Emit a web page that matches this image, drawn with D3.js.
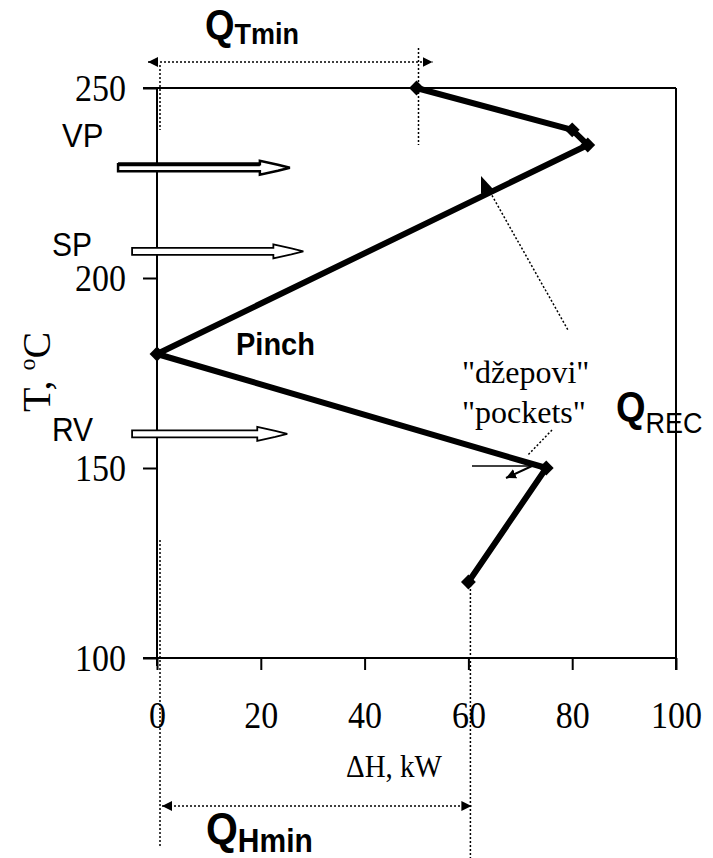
<!DOCTYPE html>
<html>
<head>
<meta charset="utf-8">
<script src="https://cdn.jsdelivr.net/npm/d3@7"></script>
<style>
  body { margin: 0; background: #fff; }
  .st { transform-box: fill-box; transform-origin: center; transform: scale(1, 1.1); }
</style>
</head>
<body>
<div id="chart-area"></div>
<script>
// grand composite curve data
const dH = [50, 80, 83, 0, 75, 60];
const temps = [250, 239, 235, 180, 150, 120];

// utilities (hollow arrows on the left)
const utilNames = ["VP", "SP", "RV"];
const utilT = [229, 207, 159];
const utilFrom = [-7.5, -4.8, -4.8];
const utilTo = [25.6, 28.2, 25.1];

const xTicks = [0, 20, 40, 60, 80, 100];
const yTicks = [100, 150, 200, 250];

const QTmin = 50, QHmin = 60;

const svg = d3.select("#chart-area")
  .append("svg")
    .attr("width", 713)
    .attr("height", 858);

const x = d3.scaleLinear().domain([0, 100]).range([157, 676]);
const y = d3.scaleLinear().domain([100, 250]).range([658, 88]);

// arrow heads
const defs = svg.append("defs");
defs.append("marker")
  .attr("id", "tri")
  .attr("viewBox", "0 0 10 10")
  .attr("refX", 10).attr("refY", 5)
  .attr("markerWidth", 10).attr("markerHeight", 10)
  .attr("markerUnits", "userSpaceOnUse")
  .attr("orient", "auto-start-reverse")
  .append("path").attr("d", "M0,0 L10,5 L0,10 Z").attr("fill", "#000");

// Axes
const yaxis = d3.axisLeft(y).tickValues(yTicks).tickSize(14).tickPadding(17);
const gy = svg.append("g").attr("transform", "translate(157,0)").call(yaxis);
const xaxis = d3.axisBottom(x).tickValues(xTicks).tickSize(12).tickPadding(33);
const gx = svg.append("g").attr("transform", "translate(0,658)").call(xaxis);

[gx, gy].forEach(g => {
  g.select(".domain").remove();
  g.selectAll("line").attr("stroke", "#000").attr("stroke-width", 2);
  g.selectAll("text")
    .attr("class", "st")
    .attr("font-family", "Liberation Serif, Times New Roman, serif")
    .attr("font-size", 34)
    .attr("fill", "#000");
});

// frame
const frame = svg.append("g").attr("stroke", "#000").attr("stroke-width", 2).attr("fill", "none");
frame.append("line").attr("x1", 143).attr("x2", x(100)).attr("y1", y(100)).attr("y2", y(100));
frame.append("line").attr("x1", 143).attr("x2", x(100)).attr("y1", y(250)).attr("y2", y(250));
frame.append("line").attr("x1", x(0)).attr("x2", x(0)).attr("y1", y(250)).attr("y2", y(100) + 8);
frame.append("line").attr("x1", x(100)).attr("x2", x(100)).attr("y1", y(250)).attr("y2", y(100) + 12);

// dotted guides
const dot = svg.append("g").attr("stroke", "#000").attr("stroke-width", 1.5)
  .attr("stroke-dasharray", "2,2").attr("fill", "none");
dot.append("line").attr("x1", x(0) + 3).attr("x2", x(0) + 3).attr("y1", 65).attr("y2", 130);
dot.append("line").attr("x1", x(QTmin) + 2).attr("x2", x(QTmin) + 2).attr("y1", 48).attr("y2", 145);
dot.append("line").attr("x1", x(0) + 3).attr("x2", x(0) + 3).attr("y1", 540).attr("y2", 848);
dot.append("line").attr("x1", x(QHmin) + 2).attr("x2", x(QHmin) + 2).attr("y1", 585).attr("y2", 858);
dot.append("line").attr("x1", x(0) - 9).attr("x2", x(QTmin) + 16).attr("y1", 62).attr("y2", 62)
  .attr("marker-start", "url(#tri)").attr("marker-end", "url(#tri)");
dot.append("line").attr("x1", x(0) + 5).attr("x2", x(QHmin) + 3).attr("y1", 806).attr("y2", 806)
  .attr("marker-start", "url(#tri)").attr("marker-end", "url(#tri)");
// leader lines
dot.append("line").attr("x1", 490).attr("y1", 192).attr("x2", 568).attr("y2", 330);
dot.append("line").attr("x1", 552).attr("y1", 430).attr("x2", 527).attr("y2", 456);

// utility arrows
utilNames.forEach((n, i) => {
  const x0 = x(utilFrom[i]), x1 = x(utilTo[i]), yc = y(utilT[i]);
  const h = 3.5, hh = 7, hl = 30;
  const p = `M${x0},${yc - h} L${x1 - hl},${yc - h} L${x1 - hl},${yc - hh} L${x1 - 12},${yc - 3} L${x1},${yc}
    L${x1 - 12},${yc + 3} L${x1 - hl},${yc + hh} L${x1 - hl},${yc + h} L${x0},${yc + h} Z`;
  svg.append("path").attr("d", p).attr("fill", "#fff").attr("stroke", "#000")
    .attr("stroke-width", i === 0 ? 2.5 : 1.8);
  if (i === 0) {
    svg.append("line").attr("x1", x0).attr("x2", x1 - hl).attr("y1", yc - h).attr("y2", yc - h)
      .attr("stroke", "#000").attr("stroke-width", 4);
  }
});

// curve
const pts = dH.map((d, i) => [x(d), y(temps[i])]);
svg.append("path")
  .attr("d", d3.line()(pts))
  .attr("fill", "none")
  .attr("stroke", "#000")
  .attr("stroke-width", 6)
  .attr("stroke-linejoin", "round");

svg.selectAll(".pt")
  .data(pts)
  .enter()
  .append("path")
    .attr("class", "pt")
    .attr("d", d3.symbol(d3.symbolSquare, 110)())
    .attr("transform", d => "translate(" + d[0] + "," + d[1] + ") rotate(45)")
    .attr("fill", "#000");

// small arrows on the curve
svg.append("path").attr("d", "M481,176 L493,189 L481,194 Z").attr("fill", "#000");
svg.append("line").attr("x1", 472).attr("x2", 540).attr("y1", 466).attr("y2", 466)
  .attr("stroke", "#000").attr("stroke-width", 1.5);
svg.append("line").attr("x1", 532).attr("y1", 466).attr("x2", 506).attr("y2", 478)
  .attr("stroke", "#000").attr("stroke-width", 2)
  .attr("marker-end", "url(#tri)");

// texts
function txt(tx, ty, s, size, family, weight, anchor) {
  return svg.append("text")
    .attr("class", "st")
    .attr("x", tx).attr("y", ty)
    .attr("font-family", family)
    .attr("font-size", size)
    .attr("font-weight", weight || "normal")
    .attr("text-anchor", anchor || "start")
    .attr("fill", "#000")
    .text(s);
}
const serif = "Liberation Serif, Times New Roman, serif";
const sans = "Liberation Sans, Arial, sans-serif";

txt(62, 146, "VP", 31, sans);
txt(52, 255, "SP", 30, sans);
txt(52, 440, "RV", 30, sans);
txt(236, 354, "Pinch", 29, sans, "bold");
txt(462, 383, "\"džepovi\"", 32, serif).style("transform", "none");
txt(462, 423, "\"pockets\"", 32, serif).style("transform", "none");
txt(346, 776, "ΔH, kW", 29, serif);

// Q labels
const qt = txt(205, 38, "Q", 38, sans, "bold");
qt.append("tspan").attr("font-size", 27).attr("dy", 4).text("Tmin");
const qh = txt(206, 843, "Q", 41, sans, "bold");
qh.append("tspan").attr("font-size", 30).attr("dy", 7).text("Hmin");
const qr = txt(616, 420, "Q", 38, sans, "bold");
qr.append("tspan").attr("font-size", 27).attr("font-weight", "normal").attr("dy", 11).text("REC");

// y label
const yl = svg.append("text")
  .attr("transform", "translate(50,372) rotate(-90)")
  .attr("text-anchor", "middle")
  .attr("font-family", serif)
  .attr("font-size", 40)
  .attr("fill", "#000");
yl.append("tspan").text("T, ");
yl.append("tspan").attr("font-size", 24).attr("dy", -15).text("o");
yl.append("tspan").attr("dy", 15).text("C");
</script>
</body>
</html>
